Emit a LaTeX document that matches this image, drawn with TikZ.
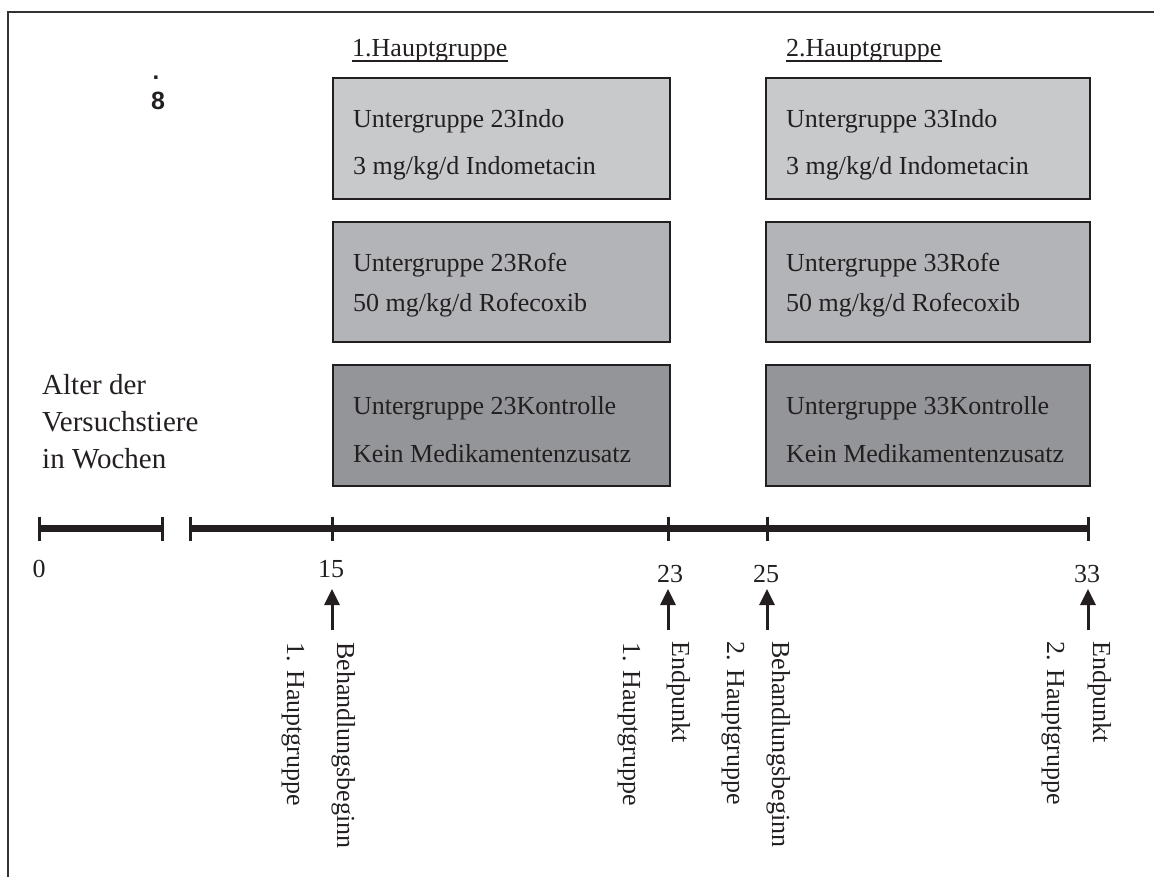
\documentclass[tikz,border=0pt]{standalone}
\usepackage{fontspec}
\setmainfont{Liberation Serif}
\newfontfamily\boldsans{Liberation Sans}
\usetikzlibrary{arrows.meta}
\definecolor{ink}{HTML}{231F20}
\definecolor{frame}{HTML}{333333}
\definecolor{boxA}{HTML}{C8C9CB}
\definecolor{boxB}{HTML}{B3B4B7}
\definecolor{boxC}{HTML}{939598}
\tikzset{
  txt/.style={inner sep=0pt, text=ink, font=\fontsize{26}{31}\selectfont},
  grpbox/.style={draw=ink, line width=2pt, inner sep=0pt, anchor=north west},
  axisline/.style={draw=ink, line width=7pt},
  tickmark/.style={draw=ink, line width=3pt},
  uparrow/.style={draw=ink, line width=3pt, -{Triangle[width=15pt,length=16pt]}},
  rot/.style={txt, rotate=-90, anchor=base west},
  numlab/.style={txt, anchor=base},
}
\begin{document}
\begin{tikzpicture}[x=1pt,y=-1pt]
\useasboundingbox (0,0) rectangle (1154,877);
% frame
\draw[frame, line width=2.5pt] (8,877) -- (8,12) -- (1154,12);

% headings
\node[txt, anchor=base west] (h1) at (352,57) {1.Hauptgruppe};
\node[txt, anchor=base west] (h2) at (786,57) {2.Hauptgruppe};
\draw[ink, line width=1.3pt] ([yshift=-4pt]h1.base west) -- ([yshift=-4pt]h1.base east);
\draw[ink, line width=1.3pt] ([yshift=-4pt]h2.base west) -- ([yshift=-4pt]h2.base east);

% dot and 8
\node[inner sep=0pt, text=ink, font=\boldsans\bfseries\fontsize{24}{28}\selectfont, anchor=base] (dot) at (156,80) {.};
\node[inner sep=0pt, text=ink, font=\boldsans\bfseries\fontsize{25}{30}\selectfont, anchor=base] (eight) at (158,110) {8};

% boxes column 1
\node[grpbox, fill=boxA, minimum width=337pt, minimum height=121pt] (b1i) at (332,77) {};
\node[grpbox, fill=boxB, minimum width=337pt, minimum height=120pt] (b1r) at (332,221) {};
\node[grpbox, fill=boxC, minimum width=337pt, minimum height=121pt] (b1k) at (332,364) {};
% boxes column 2
\node[grpbox, fill=boxA, minimum width=324pt, minimum height=121pt] (b2i) at (765,77) {};
\node[grpbox, fill=boxB, minimum width=324pt, minimum height=120pt] (b2r) at (765,221) {};
\node[grpbox, fill=boxC, minimum width=324pt, minimum height=121pt] (b2k) at (765,364) {};

% box texts column 1
\node[txt, anchor=base west] (t1i1) at (353,128) {Untergruppe 23Indo};
\node[txt, anchor=base west] (t1i2) at (353,175) {3 mg/kg/d Indometacin};
\node[txt, anchor=base west] (t1r1) at (353,272) {Untergruppe 23Rofe};
\node[txt, anchor=base west] (t1r2) at (353,312) {50 mg/kg/d Rofecoxib};
\node[txt, anchor=base west] (t1k1) at (353,414) {Untergruppe 23Kontrolle};
\node[txt, anchor=base west] (t1k2) at (353,462) {Kein Medikamentenzusatz};
% box texts column 2
\node[txt, anchor=base west] (t2i1) at (786,128) {Untergruppe 33Indo};
\node[txt, anchor=base west] (t2i2) at (786,175) {3 mg/kg/d Indometacin};
\node[txt, anchor=base west] (t2r1) at (786,272) {Untergruppe 33Rofe};
\node[txt, anchor=base west] (t2r2) at (786,312) {50 mg/kg/d Rofecoxib};
\node[txt, anchor=base west] (t2k1) at (786,414) {Untergruppe 33Kontrolle};
\node[txt, anchor=base west] (t2k2) at (786,462) {Kein Medikamentenzusatz};

% left label
\node[txt, font=\fontsize{29}{37}\selectfont, align=left, anchor=north west] (alter) at (42,374) {Alter der\\Versuchstiere\\in Wochen};

% axis
\coordinate (a0) at (39,528);
\coordinate (a1) at (162,528);
\coordinate (a2) at (190,528);
\coordinate (a15) at (332,528);
\coordinate (a23) at (668,528);
\coordinate (a25) at (767,528);
\coordinate (a33) at (1088,528);
\draw[axisline] (a0) -- (a1);
\draw[axisline] (a2) -- (a33);
\foreach \c in {a0,a1,a2,a15,a23,a25,a33}
  \draw[tickmark] ([yshift=11.5pt]\c) -- ([yshift=-12.5pt]\c);

% numbers
\node[numlab] (n0) at (39,577) {0};
\node[numlab] (n15) at (331,577) {15};
\node[numlab] (n23) at (670,582) {23};
\node[numlab] (n25) at (766,582) {25};
\node[numlab] (n33) at (1087,582) {33};

% arrows
\foreach \x/\n in {332/15, 668/23, 767/25, 1088/33}{
  \coordinate (s\n) at (\x,630);
  \coordinate (e\n) at (\x,589);
  \draw[uparrow] (s\n) -- (e\n);
}

% rotated labels
\node[rot] (l15a) at (287,642) {1. Hauptgruppe};
\node[rot] (l15b) at (337,642) {Behandlungsbeginn};
\node[rot] (l23a) at (623,642) {1. Hauptgruppe};
\node[rot] (l23b) at (672,641) {Endpunkt};
\node[rot] (l25a) at (727,641) {2. Hauptgruppe};
\node[rot] (l25b) at (772,641) {Behandlungsbeginn};
\node[rot] (l33a) at (1047,641) {2. Hauptgruppe};
\node[rot] (l33b) at (1093,641) {Endpunkt};
\end{tikzpicture}
\end{document}
